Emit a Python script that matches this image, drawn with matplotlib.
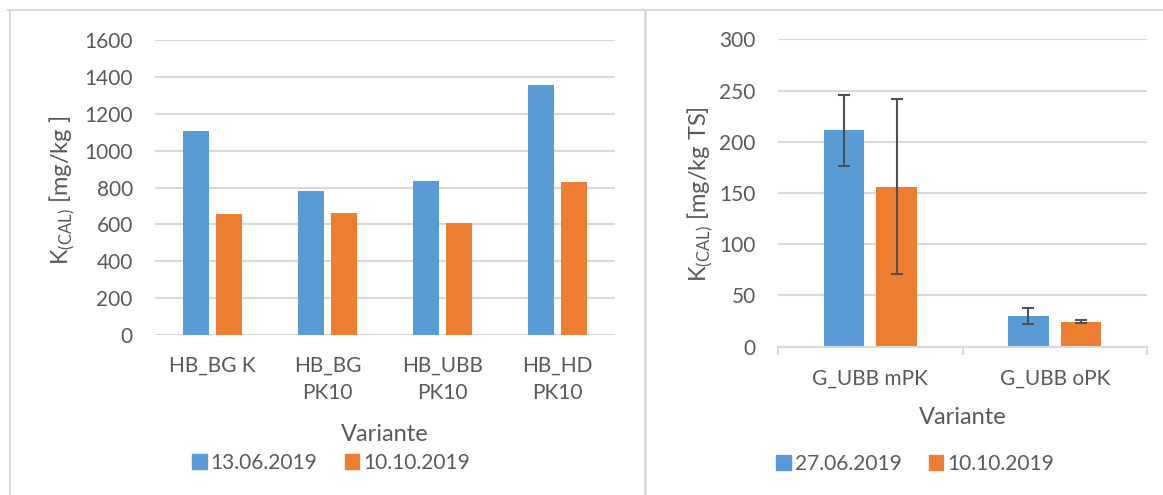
import numpy as np
import matplotlib
matplotlib.use("Agg")
import matplotlib.pyplot as plt
from matplotlib.lines import Line2D
from matplotlib.patches import Patch

# --- data ---
left_cats = ["HB_BG K", "HB_BG\nPK10", "HB_UBB\nPK10", "HB_HD\nPK10"]
left_june = [1105, 783, 833, 1355]
left_oct = [658, 660, 608, 828]
left_dates = ["13.06.2019", "10.10.2019"]

right_cats = ["G_UBB mPK", "G_UBB oPK"]
right_june = [211, 30]
right_oct = [156, 24.5]
right_june_err = [35, 8]
right_oct_err = [85.5, 1.5]
right_dates = ["27.06.2019", "10.10.2019"]

BLUE = "#5B9BD5"
ORANGE = "#ED7D31"
GRID = "#d9d9d9"
TXT = "#595959"

plt.rcParams["font.family"] = ["Lato", "DejaVu Sans"]
plt.rcParams["mathtext.fontset"] = "custom"
plt.rcParams["mathtext.rm"] = "Lato"
plt.rcParams["text.color"] = TXT

W, H = 1163, 495
fig = plt.figure(figsize=(W / 100, H / 100), dpi=100)


def px_axes(x0, y0, x1, y1):
    return fig.add_axes([x0 / W, 1 - y1 / H, (x1 - x0) / W, (y1 - y0) / H])


def style(ax, ymax, step):
    ax.set_ylim(0, ymax)
    ax.set_yticks(np.arange(0, ymax + 1, step))
    ax.yaxis.grid(True, color=GRID, lw=1.5)
    ax.set_axisbelow(True)
    for s in ["top", "right", "left", "bottom"]:
        ax.spines[s].set_visible(False)
    ax.tick_params(axis="y", length=0, pad=16, labelsize=15, labelcolor=TXT)
    ax.tick_params(axis="x", length=0, labelsize=15, labelcolor=TXT)


w = 0.22
off = 0.143

# left chart
ax1 = px_axes(155, 39.7, 615, 335.3)
x1 = np.arange(len(left_cats))
ax1.bar(x1 - off, left_june, w, color=BLUE, label=left_dates[0])
ax1.bar(x1 + off, left_oct, w, color=ORANGE, label=left_dates[1])
ax1.set_xlim(-0.5, len(left_cats) - 0.5)
style(ax1, 1600, 200)
ax1.set_xticks(x1)
ax1.set_xticklabels(left_cats, linespacing=1.45, va="top")
ax1.tick_params(axis="x", pad=15)
ax1.set_xlabel("Variante", fontsize=17, color=TXT)
ax1.xaxis.set_label_coords(0.5, -0.337)
ax1.xaxis.label.set_va("center")
ax1.set_ylabel(r"K$_{\mathrm{(CAL)}}$ [mg/kg ]", fontsize=17, color=TXT)
ax1.yaxis.set_label_coords(-0.202, 0.49)
ax1.yaxis.label.set_va("center")
ax1.legend(handles=[Patch(color=BLUE, label=left_dates[0]),
                    Patch(color=ORANGE, label=left_dates[1])],
           loc="center", bbox_to_anchor=(331 / W, 1 - 463 / H),
           bbox_transform=fig.transFigure, ncol=2, frameon=False,
           fontsize=15, handlelength=0.7, handleheight=0.7,
           handletextpad=0.2, columnspacing=1.3)

# right chart
ax2 = px_axes(778, 39.3, 1147, 346.7)
x2 = np.arange(len(right_cats))
ekw = dict(ecolor="#505050", elinewidth=1.5, capsize=4, capthick=1.5)
ax2.bar(x2 - off, right_june, w, color=BLUE, yerr=right_june_err,
        error_kw=ekw, label=right_dates[0])
ax2.bar(x2 + off, right_oct, w, color=ORANGE, yerr=right_oct_err,
        error_kw=ekw, label=right_dates[1])
ax2.set_xlim(-0.5, len(right_cats) - 0.5)
style(ax2, 300, 50)
ax2.spines["bottom"].set_visible(True)
ax2.spines["bottom"].set_color(GRID)
ax2.spines["bottom"].set_linewidth(1.5)
ax2.set_xticks(x2)
ax2.set_xticklabels(right_cats)
ax2.set_xticks(np.arange(-0.5, len(right_cats)), minor=True)
ax2.tick_params(axis="x", which="minor", length=6, width=1.5, color=GRID)
ax2.tick_params(axis="x", which="major", pad=16)
ax2.set_xlabel("Variante", fontsize=17, color=TXT)
ax2.xaxis.set_label_coords(0.5, -0.229)
ax2.xaxis.label.set_va("center")
ax2.set_ylabel(r"K$_{\mathrm{(CAL)}}$ [mg/kg TS]", fontsize=17, color=TXT)
ax2.yaxis.set_label_coords(-0.211, 0.496)
ax2.yaxis.label.set_va("center")
ax2.legend(handles=[Patch(color=BLUE, label=right_dates[0]),
                    Patch(color=ORANGE, label=right_dates[1])],
           loc="center", bbox_to_anchor=(915 / W, 1 - 464 / H),
           bbox_transform=fig.transFigure, ncol=2, frameon=False,
           fontsize=15, handlelength=0.7, handleheight=0.7,
           handletextpad=0.2, columnspacing=1.3)

# panel frames
fig.add_artist(Line2D([8 / W, 1], [1 - 10 / H] * 2, color=GRID, lw=1.5))
fig.add_artist(Line2D([9.5 / W] * 2, [0, 1 - 10 / H], color=GRID, lw=1.5))
fig.add_artist(Line2D([645 / W] * 2, [0, 1 - 10 / H], color=GRID, lw=2))

fig.savefig("out.png", dpi=100)
